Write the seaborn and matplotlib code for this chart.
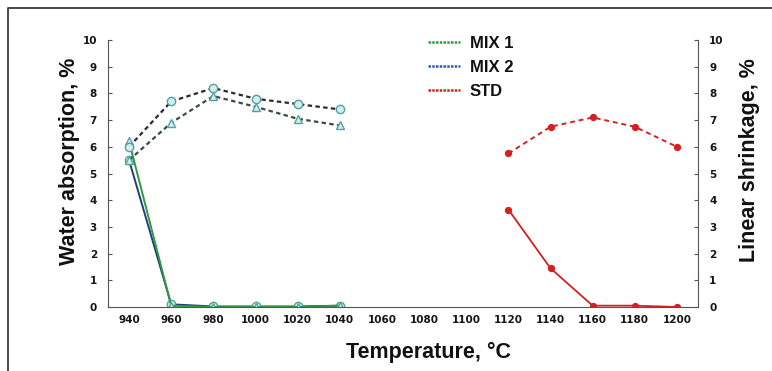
import matplotlib
matplotlib.use("Agg")
import matplotlib.pyplot as plt
import seaborn as sns
import pandas as pd
from matplotlib.lines import Line2D

sns.set_style("white")

all_ticks = [940, 960, 980, 1000, 1020, 1040, 1060, 1080, 1100, 1120, 1140, 1160, 1180, 1200]

mix_temps = [940, 960, 980, 1000, 1020, 1040]
mix1_wa = [6.2, 0.05, 0.0, 0.0, 0.0, 0.05]
mix2_wa = [5.5, 0.1, 0.02, 0.02, 0.02, 0.05]
mix1_ls = [5.5, 6.9, 7.9, 7.5, 7.05, 6.8]
mix2_ls = [6.0, 7.7, 8.2, 7.8, 7.6, 7.4]

std_temps = [1120, 1140, 1160, 1180, 1200]
std_wa = [3.65, 1.45, 0.05, 0.05, 0.0]
std_ls = [5.75, 6.75, 7.1, 6.75, 6.0]

green = "#2e9a3e"
blue = "#2a5db0"
red = "#d42020"
teal = "#4fa3a3"
dark = "#2b2b2b"

fig = plt.figure(figsize=(7.72, 3.71), dpi=100)
ax = fig.add_axes([108/772, 1-307/371, (698-108)/772, (307-40)/371])
ax2 = ax.twinx()

df_m1w = pd.DataFrame({"t": mix_temps, "v": mix1_wa})
df_m2w = pd.DataFrame({"t": mix_temps, "v": mix2_wa})
df_m1s = pd.DataFrame({"t": mix_temps, "v": mix1_ls})
df_m2s = pd.DataFrame({"t": mix_temps, "v": mix2_ls})
df_sw = pd.DataFrame({"t": std_temps, "v": std_wa})
df_ss = pd.DataFrame({"t": std_temps, "v": std_ls})

mk_kw = dict(markersize=6, markerfacecolor="#d8ecec", markeredgecolor=teal, markeredgewidth=1.0)
sns.lineplot(data=df_m2w, x="t", y="v", ax=ax, color="#1f3f7a", lw=1.4, marker="o", **mk_kw)
sns.lineplot(data=df_m1w, x="t", y="v", ax=ax, color=green, lw=1.4, marker="^", **mk_kw)
sns.lineplot(data=df_sw, x="t", y="v", ax=ax, color=red, lw=1.3, marker="o",
             markersize=4.5, markerfacecolor=red, markeredgecolor=red)

sns.lineplot(data=df_m2s, x="t", y="v", ax=ax2, color=dark, lw=1.6, ls=(0, (2, 1.5)), marker="o", **mk_kw)
sns.lineplot(data=df_m1s, x="t", y="v", ax=ax2, color="#3a4a4a", lw=1.6, ls=(0, (2, 1.5)), marker="^", **mk_kw)
sns.lineplot(data=df_ss, x="t", y="v", ax=ax2, color=red, lw=1.4, ls=(0, (2.5, 2)), marker="o",
             markersize=4.5, markerfacecolor=red, markeredgecolor=red)

for a in (ax, ax2):
    a.set_xlim(930, 1210)
    a.set_ylim(0, 10)
    a.set_yticks(range(0, 11))
    for s in a.spines.values():
        s.set_visible(False)

ax.spines["left"].set_visible(True)
ax.spines["bottom"].set_visible(True)
ax2.spines["right"].set_visible(True)
for s in (ax.spines["left"], ax.spines["bottom"], ax2.spines["right"]):
    s.set_color("#555555")
    s.set_linewidth(0.8)
    s.set_linestyle((0, (2, 1)))

ax.set_xticks(all_ticks)
ax.set_xticklabels([str(t) for t in all_ticks])
ax.set_xticks([t + 10 for t in all_ticks[:-1]] + [930, 1210], minor=True)

ax.tick_params(axis="both", which="both", direction="in", length=3, color="#555555", pad=6)
ax.tick_params(axis="y", length=3, pad=8)
ax2.tick_params(axis="y", direction="in", length=3, color="#555555", pad=8)
for lab in ax.get_xticklabels() + ax.get_yticklabels() + ax2.get_yticklabels():
    lab.set_fontsize(7.5)
    lab.set_fontweight("bold")
    lab.set_color("#151515")

lab_kw = dict(fontsize=15.5, fontweight="bold", family="Liberation Sans", color="#111111")
ax.set_xlabel("Temperature, °C", **lab_kw)
ax.set_ylabel("Water absorption, %", **lab_kw)
ax2.set_ylabel("Linear shrinkage, %", **lab_kw)
ax.xaxis.label.set_va("center")
ax.xaxis.set_label_coords((428-108)/590, (307-352)/267)
ax.yaxis.label.set_va("center")
ax.yaxis.set_label_coords((70-108)/590, (307-161)/267)
ax2.yaxis.label.set_va("center")
ax2.yaxis.set_label_coords((749-108)/590, (307-160)/267)

handles = [Line2D([], [], color=green, lw=1.8, ls=(0, (1, 0.5))),
           Line2D([], [], color=blue, lw=1.8, ls=(0, (1, 0.5))),
           Line2D([], [], color=red, lw=1.8, ls=(0, (1, 0.5)))]
leg = fig.legend(handles, ["MIX 1", "MIX 2", "STD"], loc="upper left",
                 bbox_to_anchor=(413/772, 1-21/371), frameon=False, handlelength=1.9,
                 handletextpad=0.6, labelspacing=0.55,
                 prop=dict(family="Liberation Sans", weight="bold", size=12))
for t in leg.get_texts():
    t.set_color("#111111")

fig.add_artist(Line2D([8/772, 8/772, 1.0], [0.0, 1-8/371, 1-8/371], transform=fig.transFigure,
                      color="#3a3a3a", lw=1.3))

fig.savefig("out.png", dpi=100)
